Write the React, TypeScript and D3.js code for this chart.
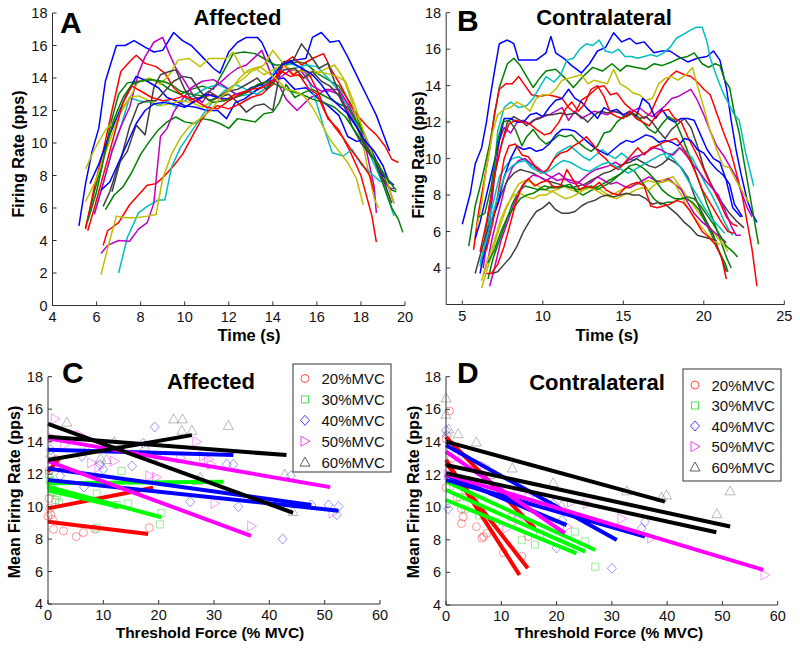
import React from 'react';
import * as d3 from 'd3';

const FONT = '"Liberation Sans", Arial, Helvetica, sans-serif';
const LINE_COLORS: Record<string, string> = {
  b: '#0000ff', g: '#008000', r: '#ff0000', c: '#00bfbf', m: '#bf00bf', y: '#bfbf00', k: '#404040',
};

// ---------- Panel A (Affected) firing-rate traces: [time s, rate pps] ----------
const affectedColors = ['b', 'g', 'r', 'c', 'm', 'y', 'k', 'b', 'g', 'r', 'c', 'm', 'y', 'k', 'b', 'g', 'r', 'y'];
const affectedTraces: number[][][] = [
  [[5.2,4.9],[5.5,7.5],[5.8,9.5],[6.1,10.9],[6.4,13.8],[6.9,16.0],[7.3,16.0],[7.7,16.3],[8.2,15.9],[8.6,15.6],[9.0,15.7],[9.5,16.8],[9.9,16.3],[10.3,16.0],[10.8,15.3],[11.3,14.6],[11.6,14.3],[12.0,15.6],[12.4,16.2],[12.8,16.5],[13.3,16.5],[13.5,16.2],[13.8,15.3],[14.2,14.2],[14.5,15.0],[15.0,15.1],[15.5,15.2],[15.8,16.5],[16.2,16.8],[16.6,16.2],[17.0,16.3],[17.4,15.3],[17.9,13.9],[18.3,12.8],[18.7,11.7],[19.0,10.6],[19.3,9.5]],
  [[5.5,4.8],[5.9,7.0],[6.3,9.0],[6.7,11.5],[7.0,13.0],[7.4,13.7],[7.9,13.8],[8.4,13.9],[8.8,13.8],[9.3,13.3],[9.8,13.0],[10.3,13.3],[10.8,13.5],[11.3,13.3],[11.8,14.5],[12.2,15.5],[12.7,15.6],[13.2,15.5],[13.6,15.2],[14.1,14.8],[14.6,14.8],[15.1,15.0],[15.5,14.9],[16.0,14.3],[16.5,13.9],[17.0,13.5],[17.5,12.5],[18.0,11.0],[18.5,9.5],[19.0,7.8],[19.4,7.1],[19.6,7.0]],
  [[5.5,4.7],[5.9,7.3],[6.3,9.5],[6.7,12.0],[7.1,14.4],[7.5,15.0],[7.8,15.4],[8.2,14.9],[8.7,14.7],[9.1,14.3],[9.5,13.4],[9.9,12.9],[10.4,12.5],[10.8,12.8],[11.3,13.0],[11.8,12.6],[12.3,13.0],[12.8,13.2],[13.3,13.0],[13.7,13.4],[14.1,14.0],[14.5,14.9],[14.9,15.3],[15.3,14.8],[15.8,15.2],[16.3,15.5],[16.7,14.4],[17.1,13.5],[17.5,12.4],[17.9,11.6],[18.3,11.0],[18.7,10.5],[19.1,9.8],[19.4,9.0],[19.7,8.8]],
  [[5.9,5.7],[6.3,7.5],[6.7,9.5],[7.1,11.0],[7.5,12.8],[7.9,12.6],[8.4,12.5],[8.8,12.3],[9.2,12.6],[9.6,12.2],[10.0,12.6],[10.5,13.0],[11.0,13.4],[11.5,13.6],[12.0,13.3],[12.5,12.9],[13.0,13.0],[13.5,13.5],[14.0,13.8],[14.5,14.5],[15.0,14.6],[15.5,14.8],[16.0,14.7],[16.5,14.0],[17.0,13.2],[17.5,12.0],[18.0,10.5],[18.5,9.0],[19.0,7.5],[19.5,5.5]],
  [[5.9,5.6],[6.3,7.5],[6.7,9.5],[7.1,11.0],[7.5,12.2],[7.9,14.3],[8.2,15.3],[8.6,16.2],[9.0,16.5],[9.3,15.5],[9.6,14.6],[10.0,13.8],[10.4,12.9],[10.8,12.5],[11.2,13.3],[11.6,13.7],[12.0,14.2],[12.4,14.6],[12.8,14.8],[13.2,15.3],[13.5,15.7],[13.9,14.3],[14.3,13.5],[14.6,12.7],[15.1,12.0],[15.7,12.8],[16.1,13.0],[16.4,13.3],[17.0,13.3],[17.5,12.2],[18.0,10.8],[18.3,9.2],[18.6,7.3],[18.7,5.7]],
  [[5.5,8.4],[5.9,9.6],[6.4,10.8],[6.9,11.5],[7.4,12.5],[7.9,13.8],[8.4,14.0],[8.9,13.6],[9.3,14.2],[9.7,15.1],[10.2,15.2],[10.7,14.7],[11.1,15.2],[11.5,15.2],[11.9,15.2],[12.2,15.6],[12.7,14.3],[13.2,14.5],[13.6,14.8],[14.0,15.7],[14.4,15.0],[14.9,14.3],[15.4,14.0],[15.9,14.2],[16.3,14.5],[16.8,14.8],[17.2,14.0],[17.6,12.5],[18.0,10.5],[18.3,8.5],[18.6,6.6],[18.8,6.0]],
  [[6.3,6.1],[6.6,7.0],[7.0,8.7],[7.4,9.5],[7.8,11.1],[8.2,10.5],[8.6,13.4],[8.9,14.2],[9.3,14.4],[9.6,14.5],[10.0,13.3],[10.3,12.7],[10.7,12.8],[11.1,13.2],[11.5,12.8],[12.0,13.0],[12.4,12.5],[12.8,11.9],[13.2,12.3],[13.6,12.4],[14.0,12.0],[14.4,14.9],[14.9,15.0],[15.3,16.1],[15.7,15.4],[16.1,14.6],[16.5,14.9],[16.8,13.8],[17.2,12.5],[17.6,11.0],[18.0,10.0],[18.4,9.3],[18.8,8.7],[19.2,7.5],[19.5,6.3]],
  [[5.7,7.5],[6.1,8.7],[6.5,10.2],[6.9,11.5],[7.3,12.8],[7.8,14.1],[8.3,13.8],[8.8,13.4],[9.2,12.8],[9.6,12.6],[10.0,12.3],[10.5,12.2],[11.0,12.0],[11.5,12.0],[11.9,11.5],[12.3,12.5],[12.7,12.7],[13.2,13.2],[13.6,13.5],[14.1,13.9],[14.5,14.0],[15.0,13.3],[15.5,13.4],[16.0,12.8],[16.5,12.3],[17.0,11.7],[17.4,10.4],[17.8,10.1],[18.2,10.2],[18.6,9.2],[19.0,8.0],[19.5,7.4]],
  [[6.4,5.9],[6.8,6.8],[7.2,7.3],[7.6,8.2],[8.0,9.3],[8.4,10.1],[8.8,10.8],[9.2,11.3],[9.6,11.6],[10.0,11.3],[10.4,11.2],[10.8,11.5],[11.2,11.4],[11.6,11.2],[12.0,10.9],[12.4,11.5],[12.8,11.4],[13.2,11.3],[13.6,11.8],[14.0,11.9],[14.3,12.5],[14.6,13.6],[15.0,12.8],[15.4,13.1],[15.8,13.3],[16.2,13.0],[16.6,12.7],[17.0,12.4],[17.4,12.2],[17.8,11.3],[18.2,10.4],[18.6,9.0],[19.0,7.5],[19.4,6.0],[19.7,5.3],[19.9,4.5]],
  [[6.3,3.7],[6.5,4.6],[7.0,5.1],[7.5,6.2],[7.9,6.8],[8.3,7.4],[8.7,7.5],[9.1,8.0],[9.5,8.6],[9.9,9.3],[10.3,10.3],[10.7,11.3],[11.1,12.0],[11.5,12.3],[12.0,12.1],[12.5,12.4],[13.0,12.8],[13.5,13.0],[14.0,13.6],[14.5,14.8],[14.9,14.2],[15.3,14.5],[15.7,14.1],[16.1,13.0],[16.5,11.5],[17.0,10.8],[17.5,9.5],[18.0,8.0],[18.3,6.5],[18.5,5.5],[18.7,3.9]],
  [[7.0,2.0],[7.4,4.2],[7.9,5.7],[8.3,6.1],[8.8,6.5],[9.1,6.5],[9.4,8.5],[9.8,9.7],[10.3,10.7],[10.8,11.7],[11.3,12.6],[11.8,13.2],[12.3,13.6],[12.8,13.3],[13.3,13.0],[13.7,13.4],[14.1,14.5],[14.6,14.9],[15.0,14.8],[15.4,14.6],[15.8,13.2],[16.0,12.4],[16.3,11.0],[16.7,9.4],[17.2,9.2],[17.6,9.6],[18.0,8.7],[18.4,8.2],[18.9,7.6]],
  [[6.2,3.2],[6.5,3.7],[7.0,4.0],[7.5,3.95],[7.9,4.7],[8.3,5.1],[8.6,6.3],[8.9,10.4],[9.2,10.9],[9.5,11.9],[9.9,12.7],[10.3,13.4],[10.8,13.8],[11.3,13.9],[11.8,13.5],[12.3,13.0],[12.8,13.1],[13.3,13.5],[13.8,13.8],[14.3,14.0],[14.8,14.5],[15.3,14.4],[15.8,13.5],[16.2,13.2],[16.6,13.2],[17.0,13.0],[17.4,12.0],[17.8,11.0],[18.2,10.0],[18.6,9.0],[19.0,7.7],[19.3,7.2],[19.5,7.2]],
  [[5.5,6.4],[5.9,7.5],[6.3,9.0],[6.7,10.5],[7.1,12.0],[7.5,12.8],[7.9,12.9],[8.4,12.6],[8.9,12.3],[9.3,12.4],[9.8,12.6],[10.3,12.5],[10.8,12.2],[11.3,12.6],[11.7,13.0],[12.2,13.5],[12.7,14.0],[13.2,14.6],[13.6,14.2],[14.0,14.5],[14.4,14.8],[14.9,14.5],[15.4,14.4],[15.9,14.4],[16.4,14.3],[16.9,14.1],[17.3,13.8],[17.7,12.4],[18.1,10.8],[18.6,9.0],[19.1,8.0],[19.5,6.3]],
  [[6.7,7.0],[7.1,9.0],[7.5,11.0],[7.9,12.4],[8.3,12.6],[8.7,12.6],[9.1,13.2],[9.5,13.8],[9.9,14.1],[10.3,14.0],[10.7,13.2],[11.1,12.6],[11.5,12.8],[12.0,13.2],[12.4,13.3],[12.8,13.6],[13.3,14.0],[13.7,13.3],[14.1,13.9],[14.5,14.5],[15.0,14.6],[15.4,14.0],[15.8,14.4],[16.2,13.8],[16.6,13.5],[17.0,12.9],[17.4,11.8],[17.8,11.0],[18.2,9.8],[18.6,9.0],[19.0,7.8],[19.4,6.3]],
  [[6.2,7.1],[6.6,7.6],[7.0,8.8],[7.4,10.0],[7.8,11.2],[8.2,12.0],[8.6,12.4],[9.0,12.5],[9.5,12.4],[10.0,12.2],[10.5,12.6],[11.0,13.0],[11.5,12.8],[12.0,12.7],[12.5,12.9],[13.0,13.4],[13.5,13.6],[14.0,14.1],[14.4,14.8],[14.8,15.0],[15.3,14.6],[15.8,14.2],[16.2,13.6],[16.6,12.8],[17.0,12.3],[17.4,11.8],[17.8,11.0],[18.2,10.1],[18.6,9.5],[19.0,8.6],[19.3,7.5]],
  [[5.6,5.2],[6.0,7.0],[6.4,9.5],[6.8,11.5],[7.2,12.8],[7.6,13.6],[8.0,13.8],[8.5,13.9],[9.0,13.8],[9.4,13.6],[9.8,13.2],[10.3,13.0],[10.8,12.9],[11.3,12.5],[11.8,12.6],[12.3,12.8],[12.8,13.1],[13.3,13.6],[13.8,13.8],[14.3,13.5],[14.8,13.2],[15.3,13.0],[15.8,12.7],[16.3,12.5],[16.8,12.2],[17.3,11.6],[17.8,10.6],[18.3,9.6],[18.8,8.6],[19.3,7.6],[19.6,7.1]],
  [[5.6,4.6],[6.0,6.5],[6.4,8.5],[6.8,10.5],[7.2,12.5],[7.6,13.5],[8.0,13.2],[8.5,12.8],[9.0,12.6],[9.5,12.7],[10.0,12.9],[10.5,12.6],[11.0,12.2],[11.5,12.1],[12.0,12.6],[12.5,13.0],[13.0,13.3],[13.5,13.4],[14.0,13.8],[14.4,14.4],[14.8,14.1],[15.2,14.2],[15.6,13.4],[16.0,13.0],[16.4,11.8],[16.8,11.0],[17.2,10.3],[17.6,9.5],[18.0,8.8],[18.4,8.0],[18.6,7.0]],
  [[6.2,1.9],[6.5,3.5],[6.9,5.5],[7.3,5.4],[7.8,5.4],[8.3,5.5],[8.7,5.6],[9.0,7.8],[9.4,9.3],[9.8,10.3],[10.2,11.0],[10.7,11.5],[11.2,12.0],[11.6,12.8],[12.1,13.3],[12.5,14.0],[12.9,14.5],[13.4,14.7],[13.8,14.3],[14.2,13.9],[14.6,13.3],[15.0,13.2],[15.4,12.9],[15.8,12.2],[16.2,11.2],[16.6,10.2],[17.0,9.5],[17.4,8.8],[17.8,7.8],[18.1,6.2]],
];

// ---------- Panel B (Contralateral) firing-rate traces ----------
const contraColors = ['b', 'g', 'r', 'c', 'm', 'y', 'k', 'b', 'g', 'r', 'c', 'm', 'y', 'k', 'b', 'g', 'r', 'c', 'm', 'y', 'k', 'g', 'r'];
const contraTraces: number[][][] = [
  [[5.0,6.4],[5.5,8.1],[5.8,9.7],[6.2,10.6],[6.5,12.0],[6.7,13.2],[7.0,14.8],[7.3,16.3],[7.8,16.5],[8.2,16.3],[8.5,15.4],[9.0,15.4],[9.6,15.4],[10.2,15.8],[10.5,16.7],[10.8,15.8],[11.3,15.5],[11.8,15.1],[12.4,14.7],[12.9,15.2],[13.4,15.9],[13.9,16.1],[14.4,16.9],[14.9,16.4],[15.4,16.6],[15.8,16.3],[16.3,16.4],[16.9,15.8],[17.4,15.9],[17.9,15.9],[18.4,15.6],[19.0,15.3],[19.6,15.5],[20.2,15.6],[20.6,15.9],[21.0,15.4],[21.4,13.9],[21.7,12.1],[22.0,10.5],[22.3,9.2],[22.7,7.7],[23.0,7.0],[23.3,6.5]],
  [[5.4,5.2],[5.8,7.4],[6.2,8.8],[6.7,10.8],[7.3,13.9],[7.8,15.2],[8.2,15.5],[8.6,15.1],[9.0,14.5],[9.4,13.9],[9.8,14.4],[10.2,14.8],[10.8,14.9],[11.4,14.4],[11.9,13.9],[12.5,14.5],[13.1,15.0],[13.7,14.8],[14.3,15.2],[14.8,14.8],[15.2,15.1],[15.8,15.0],[16.4,14.9],[16.9,15.2],[17.4,15.1],[18.0,15.3],[18.5,15.5],[19.0,15.6],[19.4,15.8],[19.9,15.2],[20.3,15.0],[20.7,15.2],[21.0,15.1],[21.3,14.3],[21.6,13.9],[21.9,12.5],[22.2,11.4],[22.5,9.8],[22.8,8.3],[23.1,6.8],[23.4,5.3]],
  [[5.7,5.0],[6.0,7.0],[6.4,9.0],[6.7,10.5],[7.0,12.5],[7.3,13.8],[7.7,14.1],[8.1,14.1],[8.5,14.5],[8.9,14.0],[9.3,13.5],[9.8,13.4],[10.3,13.5],[10.8,13.4],[11.2,13.3],[11.6,12.8],[12.0,12.5],[12.4,13.2],[12.9,13.5],[13.4,13.9],[13.8,14.0],[14.2,13.5],[14.6,13.6],[15.1,13.0],[15.5,12.7],[15.9,12.5],[16.3,12.2],[16.7,12.5],[17.1,13.3],[17.5,14.0],[17.9,14.5],[18.3,14.8],[18.8,14.6],[19.2,14.5],[19.6,14.2],[20.0,13.8],[20.4,13.5],[20.8,12.5],[21.2,11.5],[21.6,10.6],[22.0,9.3],[22.4,7.9],[22.8,6.0],[23.0,5.0],[23.3,3.0]],
  [[6.1,4.1],[6.4,5.2],[6.7,7.0],[7.0,9.5],[7.2,11.5],[7.6,12.8],[8.0,13.1],[8.5,12.8],[9.0,12.9],[9.4,13.3],[9.8,13.9],[10.2,14.5],[10.7,14.2],[11.1,14.6],[11.5,15.4],[11.9,15.5],[12.3,16.0],[12.7,16.3],[13.1,16.2],[13.5,16.5],[13.9,15.9],[14.3,15.8],[14.7,16.0],[15.1,15.6],[15.5,15.6],[15.9,15.5],[16.3,15.6],[16.7,15.7],[17.1,15.6],[17.5,15.8],[17.9,16.1],[18.3,16.6],[18.7,16.8],[19.1,17.0],[19.5,17.2],[19.9,17.2],[20.2,16.4],[20.4,15.5],[20.8,14.5],[21.2,13.6],[21.6,12.9],[21.9,12.4],[22.2,12.1],[22.6,10.3],[23.1,8.5]],
  [[6.3,4.0],[6.7,6.5],[7.0,9.0],[7.3,11.0],[7.6,11.7],[8.0,11.4],[8.4,12.0],[8.8,12.1],[9.2,11.9],[9.6,12.2],[10.0,12.3],[10.4,12.4],[10.8,12.6],[11.2,12.8],[11.6,12.1],[12.0,12.6],[12.4,12.2],[12.8,12.4],[13.2,12.6],[13.6,12.5],[14.0,12.4],[14.4,12.6],[14.8,12.5],[15.2,12.3],[15.6,12.6],[16.0,12.8],[16.4,12.5],[16.8,12.3],[17.2,12.6],[17.6,12.9],[18.0,13.3],[18.4,13.4],[18.8,13.6],[19.2,13.8],[19.6,13.2],[20.0,12.4],[20.4,11.5],[20.8,10.7],[21.2,10.2],[21.6,9.6],[22.0,9.0],[22.4,8.0],[22.7,7.3],[23.0,6.8]],
  [[5.9,6.2],[6.2,7.5],[6.5,9.5],[6.9,11.5],[7.2,12.4],[7.6,12.7],[8.0,12.8],[8.4,13.1],[8.8,12.9],[9.2,12.6],[9.6,13.3],[10.0,13.5],[10.4,13.5],[10.8,13.8],[11.2,14.3],[11.6,14.4],[12.0,14.5],[12.4,14.6],[12.8,14.1],[13.2,14.3],[13.6,14.2],[14.0,14.1],[14.4,14.9],[14.8,14.1],[15.2,13.9],[15.6,13.6],[16.0,13.5],[16.4,13.2],[16.8,13.3],[17.2,14.1],[17.6,14.4],[18.0,14.5],[18.4,14.3],[18.9,14.6],[19.3,15.0],[19.6,14.0],[20.0,12.8],[20.4,11.5],[20.8,10.5],[21.2,9.6],[21.6,9.5],[22.0,8.8],[22.4,8.2],[22.8,7.6]],
  [[6.4,5.7],[6.7,7.5],[7.1,9.5],[7.5,11.0],[7.8,12.0],[8.2,12.3],[8.6,12.1],[9.0,11.8],[9.4,12.1],[9.8,12.2],[10.2,12.4],[10.6,12.4],[11.1,12.5],[11.5,12.4],[12.0,12.5],[12.4,12.3],[12.8,12.0],[13.2,12.4],[13.6,12.6],[14.0,12.5],[14.4,12.6],[14.8,12.5],[15.2,12.3],[15.6,12.5],[16.0,12.2],[16.4,12.3],[16.8,12.0],[17.2,11.5],[17.6,11.1],[18.0,11.6],[18.4,11.9],[18.8,12.2],[19.2,11.7],[19.6,10.7],[20.0,9.5],[20.4,8.7],[20.8,8.0],[21.2,7.5],[21.6,7.0],[22.0,6.6],[22.5,6.2]],
  [[5.8,5.6],[6.1,6.5],[6.5,8.0],[6.9,9.5],[7.3,11.0],[7.6,12.2],[8.0,12.2],[8.4,12.0],[8.8,12.0],[9.2,12.4],[9.6,12.5],[10.0,12.3],[10.4,12.8],[10.8,13.2],[11.2,13.3],[11.6,13.8],[12.0,13.3],[12.4,13.1],[12.8,12.7],[13.2,12.4],[13.4,12.2],[13.8,12.8],[14.2,12.6],[14.6,12.7],[15.0,12.4],[15.4,12.6],[15.8,12.3],[16.2,13.3],[16.6,13.0],[17.0,12.2],[17.4,12.7],[17.8,12.2],[18.2,12.0],[18.6,12.2],[19.0,12.2],[19.4,12.1],[19.8,11.3],[20.2,10.5],[20.6,10.0],[21.0,9.8],[21.4,8.8],[21.8,7.3],[22.3,6.8]],
  [[6.0,6.8],[6.4,7.0],[6.8,8.5],[7.2,11.0],[7.5,12.0],[7.9,12.1],[8.3,11.6],[8.7,10.7],[9.0,11.2],[9.4,11.6],[9.8,11.1],[10.2,10.8],[10.6,11.0],[11.0,11.3],[11.4,11.2],[11.8,11.3],[12.2,10.9],[12.6,10.6],[13.0,10.4],[13.4,10.7],[13.8,11.4],[14.2,11.5],[14.6,12.0],[15.0,12.3],[15.4,12.5],[15.8,12.4],[16.2,12.0],[16.6,11.6],[17.0,11.4],[17.4,11.9],[17.8,12.3],[18.2,12.1],[18.6,11.3],[19.0,10.4],[19.4,9.5],[19.8,8.5],[20.2,7.5],[20.6,6.6],[21.0,5.6],[21.4,4.6],[21.7,4.0]],
  [[6.1,4.9],[6.5,6.5],[6.8,8.0],[7.1,9.5],[7.5,11.0],[7.9,11.9],[8.3,12.1],[8.7,12.0],[9.2,11.9],[9.6,11.6],[10.1,11.3],[10.5,11.4],[11.0,12.0],[11.4,12.7],[11.8,13.1],[12.2,12.6],[12.6,13.0],[13.0,13.8],[13.4,14.0],[13.8,13.4],[14.2,12.5],[14.6,12.3],[15.0,12.2],[15.4,12.6],[15.8,12.2],[16.2,12.0],[16.6,11.8],[17.0,12.3],[17.4,12.6],[17.8,12.7],[18.2,12.2],[18.6,12.0],[19.0,11.2],[19.4,10.5],[19.8,9.8],[20.2,9.0],[20.6,8.3],[21.0,7.6],[21.4,6.8],[21.8,6.4],[22.1,6.3]],
  [[6.2,5.0],[6.5,6.0],[6.9,7.5],[7.3,9.0],[7.7,9.6],[8.1,10.0],[8.5,10.1],[8.9,9.9],[9.3,9.6],[9.7,9.4],[10.1,9.2],[10.5,9.7],[10.9,10.3],[11.3,10.5],[11.7,10.7],[12.1,10.4],[12.5,10.1],[12.9,9.9],[13.3,10.2],[13.7,10.5],[14.1,10.2],[14.5,10.0],[14.9,10.3],[15.3,10.0],[15.7,9.9],[16.1,10.2],[16.5,10.4],[16.9,10.6],[17.3,10.8],[17.7,10.0],[18.1,10.3],[18.5,10.6],[18.9,10.4],[19.3,10.0],[19.7,9.3],[20.1,8.6],[20.5,8.0],[20.9,7.3],[21.3,6.5],[21.6,6.0],[21.8,5.8]],
  [[6.3,3.6],[6.6,4.5],[6.9,5.8],[7.3,7.2],[7.7,8.6],[8.1,9.5],[8.5,9.9],[8.9,10.0],[9.3,9.7],[9.7,9.5],[10.1,9.2],[10.5,9.0],[10.9,8.8],[11.3,8.9],[11.7,8.7],[12.1,8.6],[12.5,8.9],[12.9,9.2],[13.3,9.4],[13.7,9.5],[14.1,9.6],[14.5,9.8],[14.9,9.6],[15.3,9.9],[15.7,10.1],[16.1,10.2],[16.5,10.4],[16.9,10.6],[17.3,10.5],[17.7,10.3],[18.1,10.2],[18.5,10.6],[18.9,10.2],[19.3,9.7],[19.7,9.3],[20.1,8.8],[20.5,8.4],[20.9,8.0],[21.3,7.2],[21.7,6.3],[22.0,5.8],[22.3,5.8]],
  [[6.2,2.9],[6.5,3.8],[6.9,5.0],[7.3,6.2],[7.7,7.2],[8.1,8.0],[8.5,8.6],[8.9,8.8],[9.3,8.7],[9.7,8.5],[10.1,8.3],[10.5,8.2],[10.9,8.3],[11.3,8.5],[11.7,8.3],[12.1,8.2],[12.5,8.3],[12.9,8.4],[13.3,8.5],[13.7,8.2],[14.1,8.0],[14.5,8.1],[14.9,8.3],[15.3,8.4],[15.7,8.6],[16.1,8.6],[16.5,8.8],[16.9,8.7],[17.3,8.8],[17.7,8.9],[18.1,9.0],[18.5,8.5],[18.9,8.0],[19.3,7.5],[19.7,7.0],[20.1,6.6],[20.5,6.1],[20.9,5.6],[21.3,5.2],[21.5,4.9]],
  [[5.8,3.7],[6.2,5.0],[6.6,6.2],[7.0,7.0],[7.4,8.0],[7.8,8.8],[8.2,9.2],[8.6,9.4],[9.0,9.3],[9.4,9.2],[9.8,9.0],[10.2,8.8],[10.6,8.7],[11.0,8.6],[11.4,8.5],[11.8,8.4],[12.2,8.5],[12.6,8.6],[13.0,8.8],[13.4,9.0],[13.8,9.2],[14.2,9.3],[14.6,9.5],[15.0,9.7],[15.4,9.8],[15.8,10.0],[16.2,9.8],[16.6,9.6],[17.0,9.5],[17.4,9.7],[17.8,10.0],[18.2,9.8],[18.6,9.5],[19.0,9.0],[19.4,8.0],[19.8,7.2],[20.2,6.5],[20.6,5.8],[21.0,4.8],[21.4,3.8]],
  [[6.1,3.7],[6.4,5.0],[6.8,6.5],[7.2,7.5],[7.6,9.0],[8.0,10.0],[8.4,10.7],[8.8,10.5],[9.2,10.6],[9.6,10.4],[10.0,10.5],[10.4,10.8],[10.8,11.3],[11.2,11.6],[11.6,11.6],[12.0,11.5],[12.4,11.2],[12.8,10.9],[13.2,10.6],[13.6,10.4],[14.0,10.2],[14.4,10.5],[14.8,10.8],[15.2,11.0],[15.6,10.9],[16.0,11.1],[16.4,11.3],[16.8,11.2],[17.2,10.9],[17.6,11.0],[18.0,10.9],[18.4,10.7],[18.8,11.1],[19.2,11.0],[19.6,10.5],[20.0,10.3],[20.4,9.8],[20.8,9.4],[21.2,9.1],[21.6,8.6],[21.9,7.5],[22.4,6.8]],
  [[6.6,3.4],[6.9,4.5],[7.3,5.5],[7.7,6.5],[8.1,7.5],[8.5,8.2],[8.9,8.5],[9.3,8.4],[9.7,8.3],[10.1,8.5],[10.5,8.4],[10.9,8.4],[11.3,8.5],[11.7,8.6],[12.1,8.2],[12.5,8.0],[12.9,8.2],[13.3,8.4],[13.7,8.6],[14.1,8.8],[14.5,9.0],[14.9,9.2],[15.3,9.5],[15.7,9.3],[16.1,8.8],[16.5,8.3],[16.9,7.8],[17.3,7.5],[17.7,7.6],[18.1,7.6],[18.5,7.8],[18.9,7.8],[19.3,7.6],[19.7,7.2],[20.1,6.5],[20.5,5.8],[20.9,5.0],[21.3,4.3],[21.5,3.8]],
  [[6.2,4.9],[6.5,5.0],[6.9,6.5],[7.3,8.5],[7.6,10.0],[7.9,10.7],[8.3,10.8],[8.7,10.2],[9.1,10.1],[9.5,9.6],[9.9,9.2],[10.3,9.4],[10.7,10.0],[11.1,10.3],[11.5,10.4],[11.9,10.7],[12.3,10.9],[12.7,11.2],[13.1,10.8],[13.5,10.3],[13.9,10.0],[14.3,9.6],[14.7,9.4],[15.1,9.8],[15.5,10.2],[15.9,10.6],[16.3,10.2],[16.7,10.6],[17.1,10.7],[17.5,10.9],[17.9,11.0],[18.3,11.1],[18.7,10.6],[19.1,10.0],[19.5,9.2],[19.9,8.3],[20.3,7.7],[20.7,7.1],[21.1,6.5],[21.5,6.0],[21.9,5.9]],
  [[6.1,4.3],[6.5,5.5],[6.9,7.0],[7.3,8.2],[7.7,9.2],[8.1,9.6],[8.5,9.8],[8.9,9.9],[9.3,9.5],[9.7,9.3],[10.1,9.2],[10.5,9.4],[10.9,9.7],[11.3,9.9],[11.7,9.8],[12.1,9.6],[12.5,9.4],[12.9,9.3],[13.3,9.5],[13.7,9.7],[14.1,9.8],[14.5,9.6],[14.9,9.4],[15.3,9.2],[15.7,9.4],[16.1,9.6],[16.5,9.8],[16.9,10.0],[17.3,10.2],[17.7,10.3],[18.1,10.0],[18.5,9.6],[18.9,9.0],[19.3,8.4],[19.7,7.8],[20.1,7.2],[20.5,6.7],[20.9,6.3],[21.3,5.9]],
  [[6.7,3.0],[7.0,4.0],[7.4,5.5],[7.8,6.5],[8.2,7.5],[8.6,8.3],[9.0,8.8],[9.4,9.1],[9.8,9.0],[10.2,8.8],[10.6,9.0],[11.0,9.2],[11.4,8.9],[11.8,8.8],[12.2,8.7],[12.6,8.5],[13.0,8.7],[13.4,9.0],[13.8,8.8],[14.2,8.6],[14.6,8.7],[15.0,8.5],[15.4,8.4],[15.8,8.6],[16.2,8.8],[16.6,9.0],[17.0,8.8],[17.4,8.7],[17.8,8.9],[18.2,8.6],[18.6,8.3],[19.0,7.6],[19.4,7.0],[19.8,6.6],[20.2,6.3],[20.6,6.0],[21.0,5.7],[21.4,5.4]],
  [[6.2,3.3],[6.6,4.5],[7.0,5.5],[7.4,6.7],[7.8,7.5],[8.2,8.0],[8.6,8.1],[9.0,7.9],[9.4,7.8],[9.8,8.0],[10.2,8.0],[10.6,8.2],[11.0,8.0],[11.4,7.8],[11.8,7.9],[12.2,8.1],[12.6,8.3],[13.0,8.4],[13.4,8.2],[13.8,8.0],[14.2,7.9],[14.6,7.8],[15.0,8.0],[15.4,8.1],[15.8,8.3],[16.2,8.4],[16.6,8.3],[17.0,8.6],[17.4,8.7],[17.8,8.8],[18.2,8.6],[18.6,8.0],[19.0,7.3],[19.4,6.8],[19.8,6.3],[20.2,5.9],[20.6,5.5],[21.0,5.3]],
  [[6.9,3.7],[7.2,3.8],[7.6,4.2],[8.0,4.6],[8.4,5.2],[8.8,6.0],[9.2,6.6],[9.6,7.1],[10.0,7.3],[10.4,7.6],[10.8,7.2],[11.2,7.0],[11.6,7.0],[12.0,7.1],[12.4,7.4],[12.8,7.6],[13.2,7.7],[13.6,7.9],[14.0,8.0],[14.4,7.9],[14.8,8.0],[15.2,8.1],[15.6,8.0],[16.0,8.0],[16.4,7.8],[16.8,7.5],[17.2,7.6],[17.6,7.5],[18.0,7.2],[18.4,6.9],[18.8,6.5],[19.2,6.2],[19.6,5.8],[20.0,5.7],[20.4,5.6],[20.8,5.5]],
  [[6.6,4.3],[7.0,5.0],[7.4,6.0],[7.8,6.8],[8.2,7.3],[8.6,7.8],[9.0,8.0],[9.4,8.1],[9.8,8.3],[10.2,8.3],[10.6,8.5],[11.0,8.4],[11.4,8.5],[11.8,8.4],[12.2,8.3],[12.6,8.4],[13.0,8.5],[13.4,8.3],[13.8,8.5],[14.2,8.7],[14.6,9.0],[15.0,9.3],[15.4,9.6],[15.8,9.7],[16.2,9.5],[16.6,9.2],[17.0,8.8],[17.4,8.3],[17.8,8.0],[18.2,7.8],[18.6,7.8],[19.0,7.9],[19.4,7.8],[19.8,7.4],[20.2,6.9],[20.6,6.4],[21.0,5.8],[21.4,5.2],[21.8,4.9],[22.1,4.6]],
  [[6.5,3.7],[6.8,3.7],[7.2,4.2],[7.6,5.2],[8.0,6.5],[8.3,7.5],[8.7,8.5],[9.1,8.9],[9.5,8.5],[9.9,8.7],[10.3,8.8],[10.7,8.4],[11.1,8.5],[11.5,9.4],[11.9,8.8],[12.3,8.3],[12.7,8.5],[13.1,8.4],[13.5,8.7],[13.9,8.3],[14.3,8.1],[14.7,8.0],[15.1,8.4],[15.5,8.6],[15.9,8.7],[16.3,8.5],[16.7,7.4],[17.1,7.3],[17.5,7.4],[17.9,7.5],[18.3,7.7],[18.7,7.6],[19.1,7.2],[19.5,6.6],[19.9,6.0],[20.3,5.7],[20.7,5.3],[21.1,4.6],[21.4,3.4]],
];

// ---------- Panel C (Affected): threshold force (%MVC) vs mean firing rate ----------
const affectedScatter20 = [[0,9.4],[0.5,9.5],[1,8.6],[2.8,8.5],[5.1,8.15],[6.4,8.4],[8.5,8.6],[18.3,8.7],[0.3,9.9],[0.2,12.2],[1.5,12.9],[0.8,9.2],[0.2,10.5]];
const affectedScatter30 = [[0.4,11.6],[1.0,11.0],[1.6,10.7],[1.3,10.4],[0.5,11.3],[8.8,10.8],[13.3,12.2],[14.5,10.2],[12.4,10.1],[20.2,8.9],[20.5,9.6],[8.8,8.7],[0.2,12.0],[2.0,10.2],[0.8,10.9]];
const affectedScatter40 = [[2.2,11.9],[6.1,13.1],[6.5,11.2],[9.4,12.6],[10.0,12.3],[19.3,14.9],[19.6,13.1],[25.7,10.3],[32.3,12.6],[33.5,12.6],[34.4,10.0],[42.4,8.0],[43.9,11.9],[47.6,10.1],[50.7,10.1],[52.2,9.5],[52.5,10.0],[17.2,13.9],[0.5,13.5],[15.2,12.5]];
const affectedScatter50 = [[1.3,15.4],[5.8,14.4],[7.9,12.7],[9.2,12.4],[1,14.2],[18.4,11.9],[19.6,11.8],[26.9,14.0],[28.1,13.1],[29.0,12.9],[30.2,10.2],[36.8,8.8],[12.0,12.8],[3.0,13.8],[24.0,13.0],[29.5,12.6],[51.5,9.6]];
const affectedScatter60 = [[3.4,15.2],[10.6,12.9],[22.7,15.4],[24.3,15.4],[24.2,14.7],[26.0,14.7],[27.5,11.8],[32.6,15.0],[42.8,12.0],[44.3,9.7],[7.0,13.5],[9.5,13.0],[12.0,14.0],[17.5,13.7],[27.0,11.6],[0.5,13.3]];
// regression lines: [x0, y0, x1, y1]
const affectedFits20 = [[0,9.07,18.1,8.31],[0,9.89,19.0,11.16],[0,12.15,2.0,12.97]];
const affectedFits30 = [[0,11.43,31.7,11.53],[0,11.22,20.5,9.34],[0,11.0,12.7,9.99]];
const affectedFits40 = [[0,13.5,33.5,13.17],[0,12.35,47.6,10.1],[0,11.64,52.5,9.75]];
const affectedFits50 = [[0,14.2,51.0,11.2],[0,12.8,36.7,8.2]];
const affectedFits60 = [[0,15.1,44.3,9.62],[0,14.3,43.1,13.17],[0,12.87,26.0,14.4]];

// ---------- Panel D (Contralateral) ----------
const contraScatter20 = [[0.6,15.9],[0,14.2],[2.8,9.9],[2.8,9.0],[3.1,9.4],[5.5,8.8],[6.5,8.1],[6.8,8.2],[7.4,8.4],[10.4,7.2],[14.9,8.2],[13.7,7.0],[0,11.2],[1.0,13.0],[3.5,11.0],[2.0,10.6]];
const contraScatter30 = [[2.5,10.6],[3.5,9.9],[13.7,8.0],[16.1,7.7],[23.3,8.5],[25.2,7.9],[27,6.35],[11.9,9.4],[0.7,11.3],[1.5,11.8],[6.0,9.5],[17.0,8.3],[9.0,9.1]];
const contraScatter40 = [[0,14.7],[0.4,9.9],[0.2,14.4],[0.5,11.9],[5.0,10.5],[19.4,10.2],[20,7.5],[30,6.25],[36,9.1],[35.4,8.7],[12.0,10.5],[8.0,11.0],[21,9.2]];
const contraScatter50 = [[0.4,12.0],[11,8.7],[13.1,9.2],[22.7,10.3],[25.5,10.2],[31.8,9.3],[37.2,8.1],[57.7,5.84],[3,13.2],[1.0,13.5],[7.0,12.5],[13.0,11.0],[15.0,10.6],[22.0,8.8]];
const contraScatter60 = [[0,16.7],[0,15.7],[2.2,14.5],[5.5,14.0],[19.4,11.5],[20.9,10.1],[32.7,11.0],[39,10.6],[39.9,10.75],[49,9.6],[51.4,11.0],[0.5,14.8],[8.0,12.0],[12.0,12.4]];
const contraFits20 = [[0,14.3,16.1,8.7],[0,12.9,13.3,5.84],[0,12.7,14.8,6.25]];
const contraFits30 = [[0,11.57,27,7.37],[0,11.05,25.2,7.27],[0,10.44,23.6,7.17]];
const contraFits40 = [[0,13.8,30.9,7.99],[0,11.98,21.8,8.9],[0,11.67,36,8.19]];
const contraFits50 = [[0,13.4,21.5,8.4],[0,12.0,57.4,6.15]];
const contraFits60 = [[0,14.02,39.6,10.34],[0,12.59,51.4,8.81],[0,12.08,48.9,8.46]];

const mvcLabels = ['20%MVC', '30%MVC', '40%MVC', '50%MVC', '60%MVC'];
const markerShapes = ['circle', 'square', 'diamond', 'triRight', 'triUp'];
const scatterColors = ['#ff0000', '#00c800', '#0000ff', '#ff00ff', '#555555'];
const legendColors = ['#ff3030', '#33dd33', '#2222ff', '#ee22ee', '#444444'];
const fitColors = ['#ff0000', '#00ff00', '#0000ff', '#ff00ff', '#000000'];

const timeTicksA = [4, 6, 8, 10, 12, 14, 16, 18, 20];
const rateTicksA = [0, 2, 4, 6, 8, 10, 12, 14, 16, 18];
const timeTicksB = [5, 10, 15, 20, 25];
const rateTicksB = [4, 6, 8, 10, 12, 14, 16, 18];
const forceTicks = [0, 10, 20, 30, 40, 50, 60];
const meanRateTicks = [4, 6, 8, 10, 12, 14, 16, 18];

type Scale = d3.ScaleLinear<number, number>;

function Axes({ x, y, xTicks, yTicks }: { x: Scale; y: Scale; xTicks: number[]; yTicks: number[] }) {
  const [x0, x1] = x.range();
  const [y0, y1] = y.range();
  const col = '#333';
  return (
    <g fontFamily={FONT} fontSize={14.5} fill="#111">
      <line x1={x0} x2={x0} y1={y0} y2={y1} stroke={col} strokeWidth={1} />
      <line x1={x0} x2={x1} y1={y0} y2={y0} stroke={col} strokeWidth={1} />
      {yTicks.map((t) => (
        <g key={'y' + t}>
          <line x1={x0} x2={x0 + 4} y1={y(t)} y2={y(t)} stroke={col} />
          <text x={x0 - 5} y={y(t)} textAnchor="end" dominantBaseline="central">{t}</text>
        </g>
      ))}
      {xTicks.map((t) => (
        <g key={'x' + t}>
          <line x1={x(t)} x2={x(t)} y1={y0} y2={y0 - 4} stroke={col} />
          <text x={x(t)} y={y0 + 16} textAnchor="middle">{t}</text>
        </g>
      ))}
    </g>
  );
}

function Marker({ shape, cx, cy, color, opacity }: { shape: string; cx: number; cy: number; color: string; opacity: number }) {
  const common = { fill: 'none', stroke: color, strokeWidth: 1, opacity };
  if (shape === 'circle') return <circle cx={cx} cy={cy} r={4} {...common} />;
  if (shape === 'square') return <rect x={cx - 3.5} y={cy - 3.5} width={7} height={7} {...common} />;
  let d = '';
  if (shape === 'diamond') d = `M${cx},${cy - 5}L${cx + 4.5},${cy}L${cx},${cy + 5}L${cx - 4.5},${cy}Z`;
  if (shape === 'triRight') d = `M${cx - 4},${cy - 5}L${cx + 5},${cy}L${cx - 4},${cy + 5}Z`;
  if (shape === 'triUp') d = `M${cx},${cy - 5}L${cx + 5},${cy + 4}L${cx - 5},${cy + 4}Z`;
  return <path d={d} {...common} />;
}

function Traces({ x, y, traces, colors }: { x: Scale; y: Scale; traces: number[][][]; colors: string[] }) {
  const line = d3.line<number[]>().x((d) => x(d[0])).y((d) => y(d[1]));
  return (
    <g>
      {traces.map((tr, i) => (
        <path key={i} d={line(tr) || ''} fill="none" stroke={LINE_COLORS[colors[i]]} strokeWidth={1.5} strokeLinejoin="round" />
      ))}
    </g>
  );
}

function ScatterFits({ x, y, scatters, fits }: { x: Scale; y: Scale; scatters: number[][][]; fits: number[][][] }) {
  return (
    <g>
      {scatters.map((pts, gi) =>
        pts.map((p, i) => (
          <Marker key={gi + '-' + i} shape={markerShapes[gi]} cx={x(p[0])} cy={y(p[1])} color={scatterColors[gi]} opacity={0.4} />
        ))
      )}
      {fits.map((fs, gi) =>
        fs.map((f, i) => (
          <line key={'f' + gi + '-' + i} x1={x(f[0])} y1={y(f[1])} x2={x(f[2])} y2={y(f[3])} stroke={fitColors[gi]} strokeWidth={4} />
        ))
      )}
    </g>
  );
}

function Legend({ left, top, width, height, rowStart, rowStep }: { left: number; top: number; width: number; height: number; rowStart: number; rowStep: number }) {
  return (
    <g fontFamily={FONT} fontSize={15} fill="#111">
      <rect x={left} y={top} width={width} height={height} fill="#fff" stroke="#333" strokeWidth={1} />
      {mvcLabels.map((lab, i) => {
        const cy = rowStart + i * rowStep;
        return (
          <g key={lab}>
            <Marker shape={markerShapes[i]} cx={left + 12} cy={cy} color={legendColors[i]} opacity={0.85} />
            <text x={left + 28.5} y={cy} dominantBaseline="central">{lab}</text>
          </g>
        );
      })}
    </g>
  );
}

function Title({ letter, lx, ly, title, tx, ty }: { letter: string; lx: number; ly: number; title: string; tx: number; ty: number }) {
  return (
    <g fontFamily={FONT} fontWeight="bold" fill="#000">
      <text x={lx} y={ly} fontSize={30}>{letter}</text>
      <text x={tx} y={ty} fontSize={22} textAnchor="middle">{title}</text>
    </g>
  );
}

function AxisLabels({ xl, xx, xy, yl, yx, yy, xs = 16.5, ys = 16 }: { xl: string; xx: number; xy: number; yl: string; yx: number; yy: number; xs?: number; ys?: number }) {
  return (
    <g fontFamily={FONT} fontWeight="bold" fill="#000">
      <text x={xx} y={xy} fontSize={xs} textAnchor="middle">{xl}</text>
      <text transform={`translate(${yx},${yy}) rotate(-90)`} fontSize={ys} textAnchor="middle" dominantBaseline="central">{yl}</text>
    </g>
  );
}

export default function App() {
  const xA = d3.scaleLinear().domain([4, 20]).range([52.5, 405]);
  const yA = d3.scaleLinear().domain([0, 18]).range([305.5, 13]);
  const xB = d3.scaleLinear().domain([4, 25]).range([446.2, 784.3]);
  const yB = d3.scaleLinear().domain([2, 18]).range([304.5, 12.7]);
  const xC = d3.scaleLinear().domain([0, 60]).range([48, 380]);
  const yC = d3.scaleLinear().domain([4, 18]).range([604, 376.7]);
  const xD = d3.scaleLinear().domain([0, 60]).range([446, 777.7]);
  const yD = d3.scaleLinear().domain([4, 18]).range([605, 376.7]);

  const scC = [affectedScatter20, affectedScatter30, affectedScatter40, affectedScatter50, affectedScatter60];
  const ftC = [affectedFits20, affectedFits30, affectedFits40, affectedFits50, affectedFits60];
  const scD = [contraScatter20, contraScatter30, contraScatter40, contraScatter50, contraScatter60];
  const ftD = [contraFits20, contraFits30, contraFits40, contraFits50, contraFits60];

  return (
    <svg width={800} height={650} viewBox="0 0 800 650" style={{ position: 'absolute', left: 0, top: 0, background: '#fff' }}>
      <rect x={0} y={0} width={800} height={650} fill="#fff" />
      {/* Panel A */}
      <Traces x={xA} y={yA} traces={affectedTraces} colors={affectedColors} />
      <Axes x={xA} y={yA} xTicks={timeTicksA} yTicks={rateTicksA} />
      <Title letter="A" lx={60} ly={33} title="Affected" tx={237.5} ty={25} />
      <AxisLabels xl="Time (s)" xx={249} xy={341} yl="Firing Rate (pps)" yx={18} yy={154} />

      {/* Panel B */}
      <Traces x={xB} y={yB} traces={contraTraces} colors={contraColors} />
      <Axes x={xB} y={yB} xTicks={timeTicksB} yTicks={rateTicksB} />
      <Title letter="B" lx={457} ly={31} title="Contralateral" tx={604} ty={25} />
      <AxisLabels xl="Time (s)" xx={607} xy={341} yl="Firing Rate (pps)" yx={418} yy={155} />

      {/* Panel C */}
      <ScatterFits x={xC} y={yC} scatters={scC} fits={ftC} />
      <Axes x={xC} y={yC} xTicks={forceTicks} yTicks={meanRateTicks} />
      <Title letter="C" lx={62} ly={383} title="Affected" tx={211} ty={389} />
      <Legend left={293} top={364} width={98} height={108} rowStart={378.5} rowStep={20.9} />
      <AxisLabels xl="Threshold Force (% MVC)" xx={210} xy={638} xs={15.5} yl="Mean Firing Rate (pps)" yx={14} yy={492} />

      {/* Panel D */}
      <ScatterFits x={xD} y={yD} scatters={scD} fits={ftD} />
      <Axes x={xD} y={yD} xTicks={forceTicks} yTicks={meanRateTicks} />
      <Title letter="D" lx={457} ly={383} title="Contralateral" tx={597} ty={390} />
      <Legend left={683} top={369} width={98} height={112} rowStart={385} rowStep={20.5} />
      <AxisLabels xl="Threshold Force (% MVC)" xx={609} xy={638} xs={15.5} yl="Mean Firing Rate (pps)" yx={413} yy={492} />
    </svg>
  );
}
